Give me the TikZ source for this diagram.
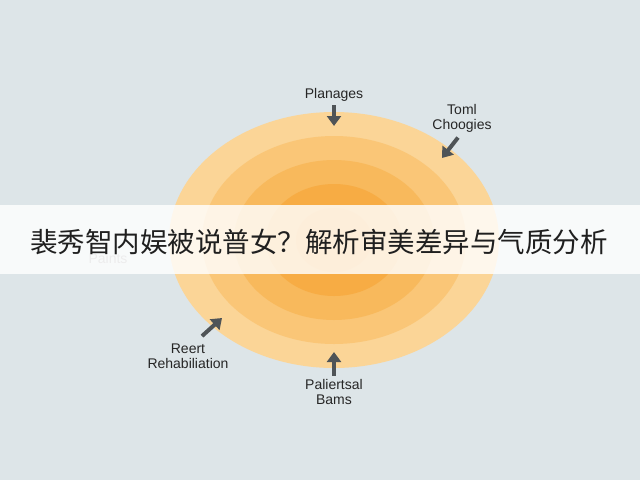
\documentclass[tikz,border=0pt]{standalone}
\usepackage{fontspec}
\setmainfont{Liberation Sans}
\newfontfamily\cjk{Noto Sans CJK SC}
\usetikzlibrary{arrows.meta,positioning}
\definecolor{bgc}{HTML}{DDE5E8}
\definecolor{ringa}{HTML}{FBD597}
\definecolor{ringb}{HTML}{FAC677}
\definecolor{ringc}{HTML}{F8B95C}
\definecolor{ringd}{HTML}{F7AC44}
\definecolor{ringe}{HTML}{F5A232}
\definecolor{arrc}{HTML}{4F5457}
\tikzset{
  lbl/.style={align=center, font=\fontsize{14}{15}\selectfont, text=black!85},
  pt/.style={-{Triangle[length=10pt,width=14pt]}, line width=4pt, arrc}
}
\begin{document}
\begin{tikzpicture}[x=1pt,y=-1pt]
      \fill[bgc] (0,0) rectangle (640,480);
      \useasboundingbox (0,0) rectangle (640,480);
      % rings
      \fill[ringa] (334,240) ellipse (165 and 128);
      \fill[ringb] (334,240) ellipse (132 and 104);
      \fill[ringc] (334,240) ellipse (100 and 80);
      \fill[ringd] (334,240) ellipse (68 and 56);
      \fill[ringe] (334,240) ellipse (38 and 32);
      \node[lbl] at (334,95) (top) {Planages};
      \node[lbl] at (462,118) (tr) {Toml\\Choogies};
      \node[lbl] at (188,356) (bl) {Reert\\Rehabiliation};
      \node[lbl] at (334,392) (bot) {Paliertsal\\Bams};
      \node[lbl, text=black!40] at (108,258) (pl) {Paints};
      \coordinate (topc) at (334,126);
      \coordinate (trc) at (442,158);
      \coordinate (blc) at (222,318);
      \coordinate (botc) at (334,352);
      \draw[pt] (top.south) -- (topc);
      \draw[pt] (tr.south) ++(-4,2) -- (trc);
      \draw[pt] (bl.north) ++(14,-4) -- (blc);
      \draw[pt] (bot.north) -- (botc);
      % banner
      \fill[white, opacity=0.82] (0,205) rectangle (640,274);
      \node[font=\cjk\fontsize{27.5}{30}\selectfont, text=black!88] at (319,242) (title)
        {裴秀智内娱被说普女？解析审美差异与气质分析};
\end{tikzpicture}
\end{document}
